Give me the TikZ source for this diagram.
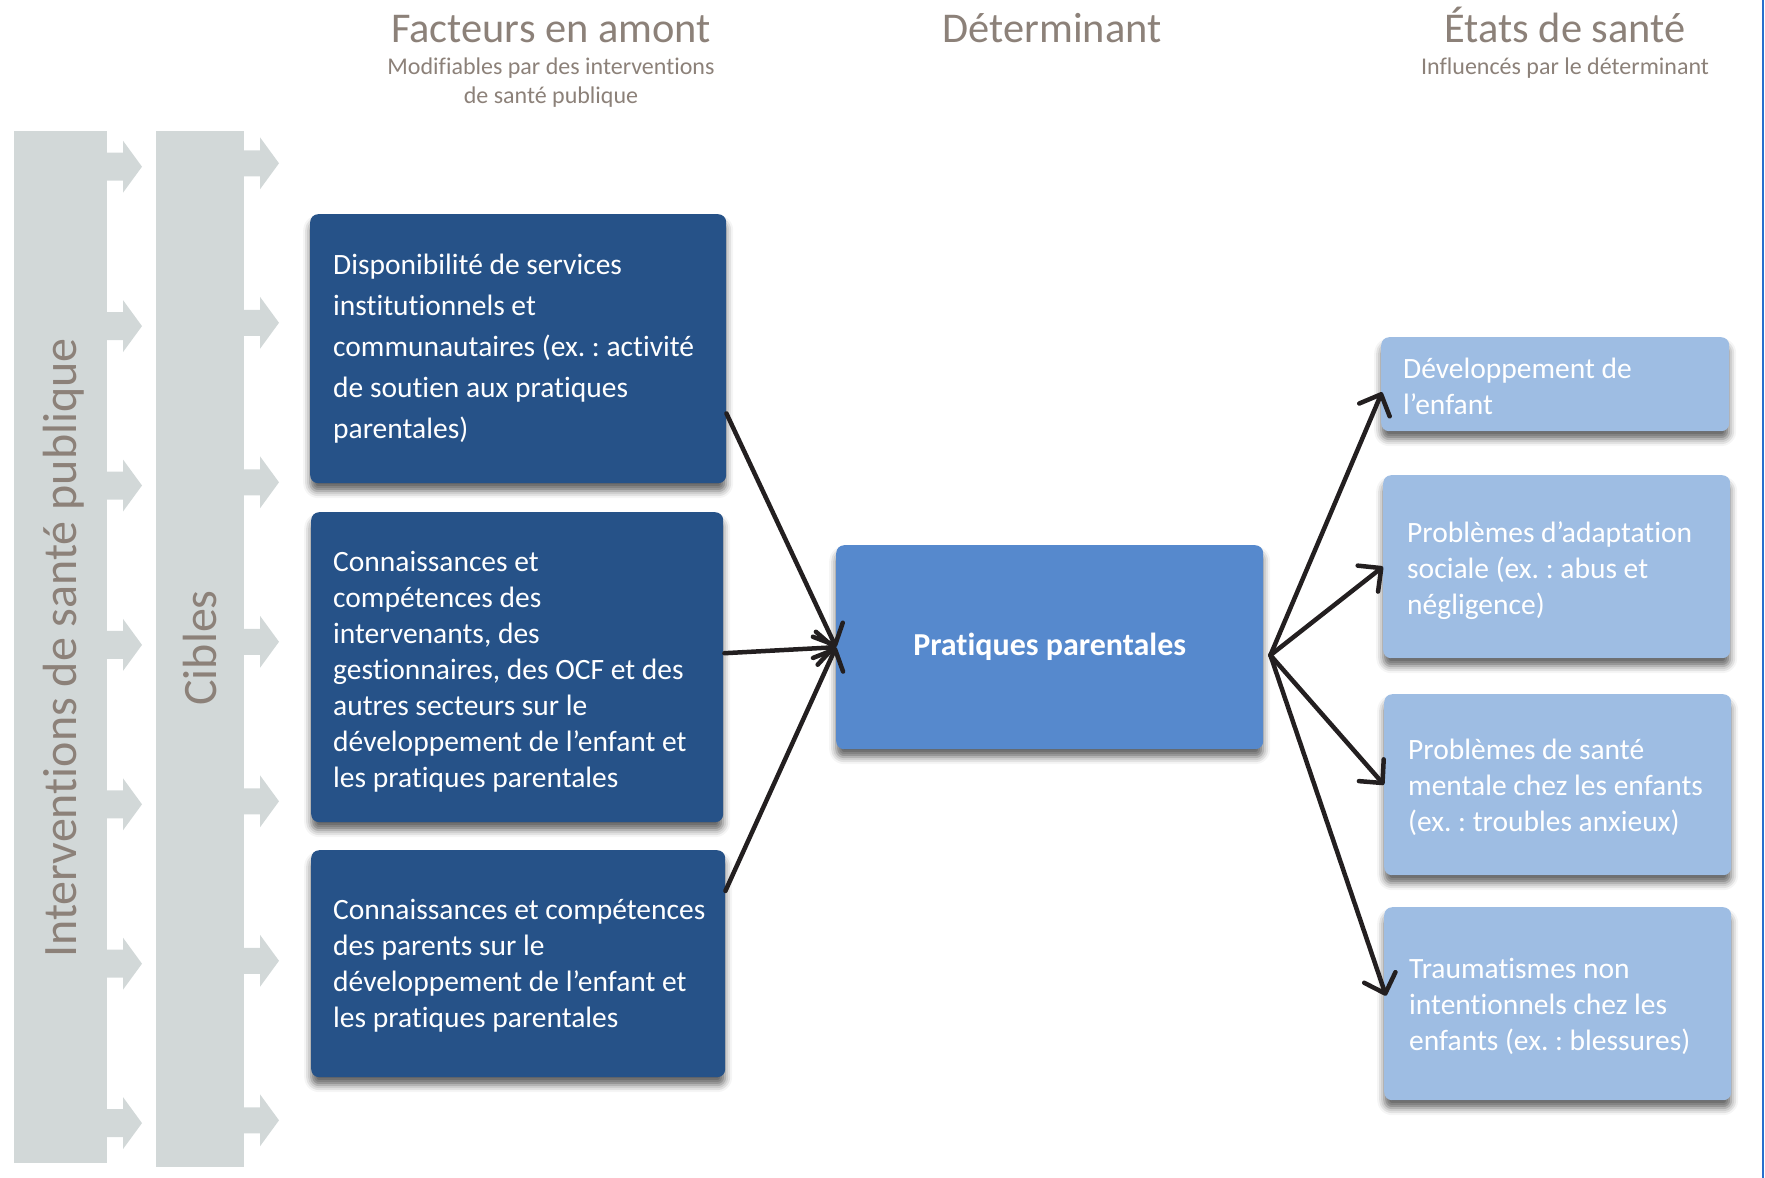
\documentclass[tikz,border=0pt]{standalone}
\usepackage{fontspec}
\setmainfont{Carlito}[Ligatures=NoCommon]
\usetikzlibrary{arrows.meta,calc,shadows.blur}
\definecolor{darkbox}{RGB}{38,82,136}
\definecolor{midbox}{RGB}{86,137,205}
\definecolor{lightbox}{RGB}{158,189,227}
\definecolor{barcol}{RGB}{210,216,216}
\definecolor{headcol}{RGB}{140,129,121}
\definecolor{arrowcol}{RGB}{35,31,32}
\definecolor{edgeblue}{RGB}{40,112,205}
\frenchspacing
\begin{document}
\begin{tikzpicture}[x=1pt,y=-1pt,
  box/.style={rounded corners=8pt, anchor=north west, inner sep=0pt,
    blur shadow={shadow xshift=0pt, shadow yshift=-8pt, shadow blur radius=7pt, shadow opacity=60}},
  upbox/.style={box, fill=darkbox},
  outbox/.style={box, fill=lightbox},
  btxt/.style={anchor=west, inner sep=0pt, text=white, align=left, font=\fontsize{29.5}{36}\selectfont},
  head/.style={text=headcol, inner sep=0pt, anchor=base, font=\fontsize{42.4}{50}\selectfont},
  subhead/.style={text=headcol, inner sep=0pt, anchor=base, font=\fontsize{24}{28}\selectfont},
  side/.style={text=headcol, rotate=90, inner sep=0pt, font=\fontsize{48}{56}\selectfont},
  conn/.style={draw=arrowcol, line width=4.5pt, line cap=round,
    -{Straight Barb[round, length=17pt, width=33pt]}}
]
\useasboundingbox (0,0) rectangle (1765,1178);

% side bars with arrows
\fill[barcol] (14,131) rectangle (107,1163);
\fill[barcol] (156,131) rectangle (244,1167);
\foreach \k in {0,...,6}{
  \pgfmathsetmacro\ya{166.7+159.4*\k}
  \fill[barcol] (105,\ya-14) -- (123,\ya-14) -- (123,\ya-26) -- (142,\ya) -- (123,\ya+26) -- (123,\ya+14) -- (105,\ya+14) -- cycle;
  \pgfmathsetmacro\yb{163.3+159.5*\k}
  \fill[barcol] (242,\yb-13) -- (260,\yb-13) -- (260,\yb-26) -- (279,\yb) -- (260,\yb+26) -- (260,\yb+13) -- (242,\yb+13) -- cycle;
}
\node[side] (isp) at (64,648) {Interventions de santé publique};
\node[side] (cib) at (200,648) {Cibles};

% headers
\node[head] (h1) at (551,42) {Facteurs en amont};
\node[subhead] (h1s) at (551,74) {Modifiables par des interventions};
\node[subhead] (h1t) at (551,103) {de santé publique};
\node[head] (h2) at (1052,42) {Déterminant};
\node[head] (h3) at (1565,42) {États de santé};
\node[subhead] (h3s) at (1565,74) {Influencés par le déterminant};

% upstream boxes
\node[upbox, minimum width=416pt, minimum height=269pt] (boxA) at (310,214) {};
\node[btxt, font=\fontsize{29.5}{41}\selectfont] (tA) at ($(boxA.west)+(23,0)$)
  {Disponibilité de services\\institutionnels et\\communautaires (ex. : activité\\de soutien aux pratiques\\parentales)};
\node[upbox, minimum width=412pt, minimum height=310pt] (boxB) at (311,512) {};
\node[btxt] (tB) at ($(boxB.west)+(22,5)$)
  {Connaissances et\\compétences des\\intervenants, des\\gestionnaires, des OCF et des\\autres secteurs sur le\\développement de l’enfant et\\les pratiques parentales};
\node[upbox, minimum width=414pt, minimum height=227pt] (boxC) at (311,850) {};
\node[btxt] (tC) at ($(boxC.west)+(22,2.5)$)
  {Connaissances et compétences\\des parents sur le\\développement de l’enfant et\\les pratiques parentales};

% determinant
\node[box, fill=midbox, text=white, minimum width=427pt, minimum height=204pt,
  font=\fontsize{32}{38}\selectfont\bfseries] (det) at (836,545) {Pratiques parentales};

% outcomes
\node[outbox, minimum width=348pt, minimum height=94pt] (r1) at (1381,337) {};
\node[btxt] (t1) at ($(r1.west)+(22,2)$) {Développement de\\l’enfant};
\node[outbox, minimum width=347pt, minimum height=183pt] (r2) at (1383,475) {};
\node[btxt] (t2) at ($(r2.west)+(24,3.5)$) {Problèmes d’adaptation\\sociale (ex. : abus et\\négligence)};
\node[outbox, minimum width=347pt, minimum height=181pt] (r3) at (1384,694) {};
\node[btxt] (t3) at ($(r3.west)+(24,2.5)$) {Problèmes de santé\\mentale chez les enfants\\(ex. : troubles anxieux)};
\node[outbox, minimum width=347pt, minimum height=193pt] (r4) at (1384,907) {};
\node[btxt] (t4) at ($(r4.west)+(25,2.5)$) {Traumatismes non\\intentionnels chez les\\enfants (ex. : blessures)};

\draw[edgeblue, line width=2.5pt] (1763,0) -- (1763,1178);

% connectors
\coordinate (hub) at ($(det.east)+(7,8)$);
\draw[conn] ($(boxA.south east)!0.26!(boxA.north east)$) -- (det.west);
\draw[conn] ($(boxB.east)+(1,-14)$) -- (det.west);
\draw[conn] ($(boxC.south east)!0.82!(boxC.north east)$) -- (det.west);
\draw[conn] (hub) -- ($(r1.west)+(1,8)$);
\draw[conn] (hub) -- (r2.west);
\draw[conn] (hub) -- (r3.west);
\draw[conn] (hub) -- ($(r4.west)+(2,-8)$);
\end{tikzpicture}
\end{document}
